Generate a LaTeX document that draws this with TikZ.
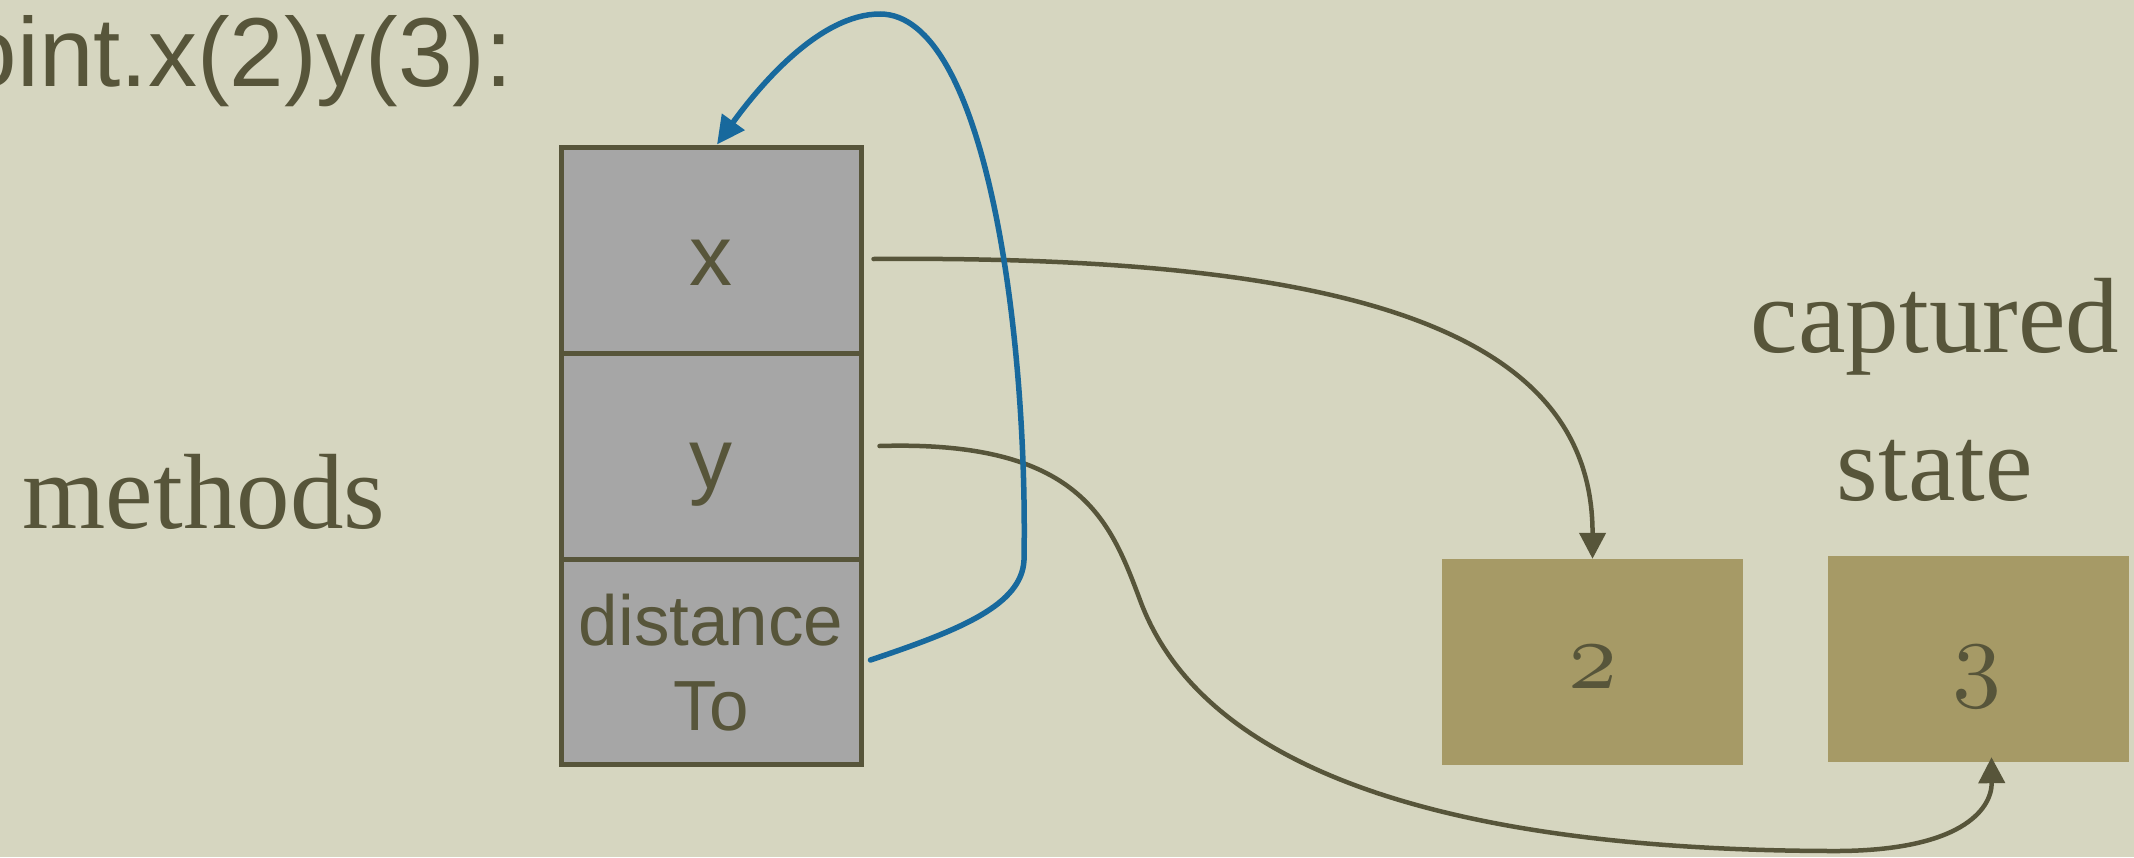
\documentclass[tikz,border=0pt]{standalone}
\usepackage{fontspec}
\newfontfamily\helv{Liberation Sans}
\newfontfamily\tms{Liberation Serif}
\usetikzlibrary{arrows.meta}
\definecolor{bgc}{HTML}{D6D6C0}
\definecolor{ink}{HTML}{57553A}
\definecolor{cellfill}{HTML}{A6A6A6}
\definecolor{valfill}{HTML}{A69A66}
\definecolor{bluec}{HTML}{18699D}
\font\osffont=cmmi10 at 98pt
\newcommand{\osnum}[1]{{\osffont #1}}
\tikzset{
  cell/.style={draw=ink, fill=cellfill, line width=5pt, minimum width=300pt, minimum height=206pt, inner sep=0pt},
  valbox/.style={fill=valfill, minimum width=301pt, minimum height=206pt, inner sep=0pt},
  numlbl/.style={text=ink, inner sep=0pt, anchor=base},
  biglbl/.style={text=ink, inner sep=0pt, anchor=base, font=\helv\fontsize{86}{90}\selectfont},
  smalllbl/.style={text=ink, inner sep=0pt, anchor=base, font=\helv\fontsize{71}{85}\selectfont},
  seriflbl/.style={text=ink, inner sep=0pt, anchor=base, font=\tms\fontsize{107}{110}\selectfont},
  olivearrow/.style={draw=ink, line width=4.5pt, line cap=round, -{Triangle[length=26pt,width=26pt]}},
  bluearrow/.style={draw=bluec, line width=5.5pt, line cap=round, -{Triangle[length=28pt,width=27pt]}}
}
\begin{document}
\begin{tikzpicture}[x=1pt,y=-1pt]
\fill[bgc] (0,0) rectangle (2134,857);
\useasboundingbox (0,0) rectangle (2134,857);

% title (partly cut off at left edge)
\node[text=ink, inner sep=0pt, anchor=base east, font=\helv\fontsize{98}{110}\selectfont] (title) at (513,86) {Point.x(2)y(3):};

% side labels
\node[seriflbl] (methods) at (204,528) {methods};
\node[seriflbl] (cap1) at (1935,352) {captured};
\node[seriflbl] (cap2) at (1935,500) {state};

% object cells
\node[cell] (cx) at (711,250) {};
\node[cell] (cy) at (711,456) {};
\node[cell, minimum height=205pt] (cd) at (711,661.5) {};
\node[biglbl] (lx) at (711,285) {x};
\node[biglbl] (ly) at (711,488) {y};
\node[smalllbl] (ld1) at (711,645) {distance};
\node[smalllbl] (ld2) at (711,730) {To};

% captured values
\node[valbox] (b2) at (1592.5,662) {};
\node[valbox] (b3) at (1978.5,659) {};
\node[numlbl] (n2) at (1593,688) {\osnum{2}};
\node[numlbl] (n3) at (1977,688) {\osnum{3}};

% connectors
\draw[olivearrow] ([shift={(10,9)}]cx.east) .. controls (1350,255) and (1593,330) .. (b2.north);
\draw[olivearrow] ([shift={(16,-10)}]cy.east) .. controls (1080,440) and (1110,520) .. (1140,600)
  .. controls (1210,790) and (1500,850) .. (1830,851)
  .. controls (1960,852) and (1992,810) .. ([shift={(13,-5)}]b3.south);
\draw[bluearrow] ([shift={(7,-1.5)}]cd.east) .. controls (960,630) and (1022,605) .. (1024,560)
  .. controls (1028,330) and (985,14) .. (880,14)
  .. controls (820,14) and (760,85) .. ([xshift=6pt]cx.north);
\end{tikzpicture}
\end{document}
